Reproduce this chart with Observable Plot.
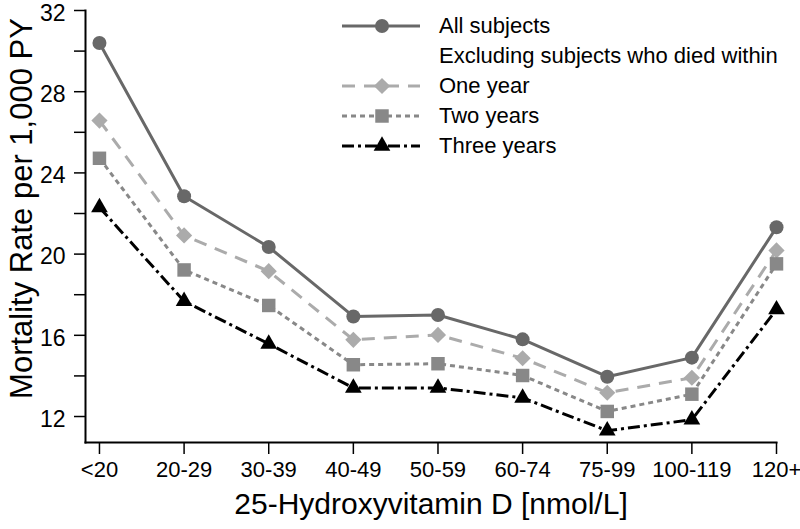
<!DOCTYPE html>
<html><head><meta charset="utf-8">
<script src="https://cdn.jsdelivr.net/npm/d3@7"></script>
<script src="https://cdn.jsdelivr.net/npm/@observablehq/plot@0.6"></script>
<style>
body{margin:0;background:#fff;}
#wrap{position:relative;width:800px;height:529px;font-family:"Liberation Sans",Arial,sans-serif;}
#legend{position:absolute;left:342px;top:11px;}
.row{display:flex;align-items:center;height:30px;font-size:22px;color:#000;white-space:nowrap;}
.row svg{width:78px;height:30px;margin-right:19px;flex:none;}
.row .pad{width:97px;flex:none;}
</style></head><body><div id="wrap"><div id="chart"></div><div id="legend"></div></div>
<script>
const categories = ["<20","20-29","30-39","40-49","50-59","60-74","75-99","100-119","120+"];
const allSubjects = [30.4, 22.85, 20.35, 16.93, 17.0, 15.8, 13.96, 14.9, 21.32];
const oneYear     = [26.58, 20.92, 19.16, 15.78, 16.02, 14.87, 13.17, 13.91, 20.18];
const twoYears    = [24.72, 19.22, 17.47, 14.55, 14.6, 14.02, 12.25, 13.1, 19.52];
const threeYears  = [22.3, 17.68, 15.58, 13.41, 13.41, 12.92, 11.3, 11.84, 17.27];
const yTicks = [12, 16, 20, 24, 28, 32];
const yMinorTicks = [14, 18, 22, 26, 30];
const seriesNames = ["All subjects", "One year", "Two years", "Three years"];
const legendHeading = "Excluding subjects who died within";
const yTitle = "Mortality Rate per 1,000 PY";
const xTitle = "25-Hydroxyvitamin D [nmol/L]";

const styles = [
  {stroke: "#686868", dash: null, symbol: "circle", r: 7},
  {stroke: "#ababab", dash: "13,9", symbol: "diamond2", r: 7.3},
  {stroke: "#888888", dash: "5,4", symbol: "square", r: 7.6},
  {stroke: "#000000", dash: "12,4,3,4", symbol: "triangle", r: 6.2}
];
const seriesValues = [allSubjects, oneYear, twoYears, threeYears];
const data = seriesValues.flatMap((vals, s) => vals.map((v, i) => ({s, i, v})));

const marks = [
  Plot.axisY({ticks: yTicks, tickSize: 0, tickPadding: 20, fontSize: 23, dy: 3, label: null}),
  Plot.axisY({ticks: yTicks.concat(yMinorTicks), tickSize: 11, tickFormat: () => "", label: null, strokeWidth: 1.5}),
  Plot.axisX({ticks: d3.range(categories.length), tickFormat: i => categories[i], tickSize: 12, tickPadding: 7, fontSize: 22, label: null, strokeWidth: 1.5}),
  Plot.frame({anchor: "left", stroke: "#000", strokeWidth: 2}),
  Plot.frame({anchor: "bottom", stroke: "#000", strokeWidth: 2}),
  Plot.text([yTitle], {frameAnchor: "left", rotate: -90, textAnchor: "middle", dx: -63, dy: -18, fontSize: 31, fill: "#000"}),
  Plot.text([xTitle], {frameAnchor: "bottom", textAnchor: "middle", dy: 71, fontSize: 30, fill: "#000"})
];
styles.forEach((st, s) => {
  const d = data.filter(r => r.s === s);
  marks.push(Plot.line(d, {x: "i", y: "v", stroke: st.stroke, strokeWidth: 3, strokeDasharray: st.dash, strokeLinecap: "butt"}));
});
styles.forEach((st, s) => {
  const d = data.filter(r => r.s === s);
  marks.push(Plot.dot(d, {x: "i", y: "v", fill: st.stroke, symbol: st.symbol, r: st.r, stroke: "none"}));
});

const chart = Plot.plot({
  width: 800, height: 529,
  marginLeft: 85, marginRight: 24, marginTop: 10, marginBottom: 87,
  style: {fontFamily: "'Liberation Sans', Arial, sans-serif", color: "#000", background: "#fff", overflow: "visible"},
  x: {type: "linear", domain: [-0.165, 8]},
  y: {type: "linear", domain: [10.72, 32]},
  marks
});
document.getElementById("chart").appendChild(chart);

// legend
const legend = document.getElementById("legend");
const rows = [
  {label: seriesNames[0], st: styles[0]},
  {label: legendHeading, st: null},
  {label: seriesNames[1], st: styles[1]},
  {label: seriesNames[2], st: styles[2]},
  {label: seriesNames[3], st: styles[3]}
];
const ns = "http://www.w3.org/2000/svg";
rows.forEach(({label, st}) => {
  const row = document.createElement("div");
  row.className = "row";
  if (st) {
    const svg = document.createElementNS(ns, "svg");
    const line = document.createElementNS(ns, "line");
    line.setAttribute("x1", 0); line.setAttribute("x2", 78);
    line.setAttribute("y1", 15); line.setAttribute("y2", 15);
    line.setAttribute("stroke", st.stroke); line.setAttribute("stroke-width", 3);
    if (st.dash) line.setAttribute("stroke-dasharray", st.dash);
    svg.appendChild(line);
    const sym = {circle: d3.symbolCircle, diamond2: d3.symbolDiamond2, square: d3.symbolSquare, triangle: d3.symbolTriangle}[st.symbol];
    const p = document.createElementNS(ns, "path");
    p.setAttribute("d", d3.symbol(sym, Math.PI * st.r * st.r)());
    p.setAttribute("transform", "translate(40,15)");
    p.setAttribute("fill", st.stroke);
    svg.appendChild(p);
    row.appendChild(svg);
  } else {
    const pad = document.createElement("div");
    pad.className = "pad";
    row.appendChild(pad);
  }
  const t = document.createElement("span");
  t.textContent = label;
  row.appendChild(t);
  legend.appendChild(row);
});
</script></body></html>
